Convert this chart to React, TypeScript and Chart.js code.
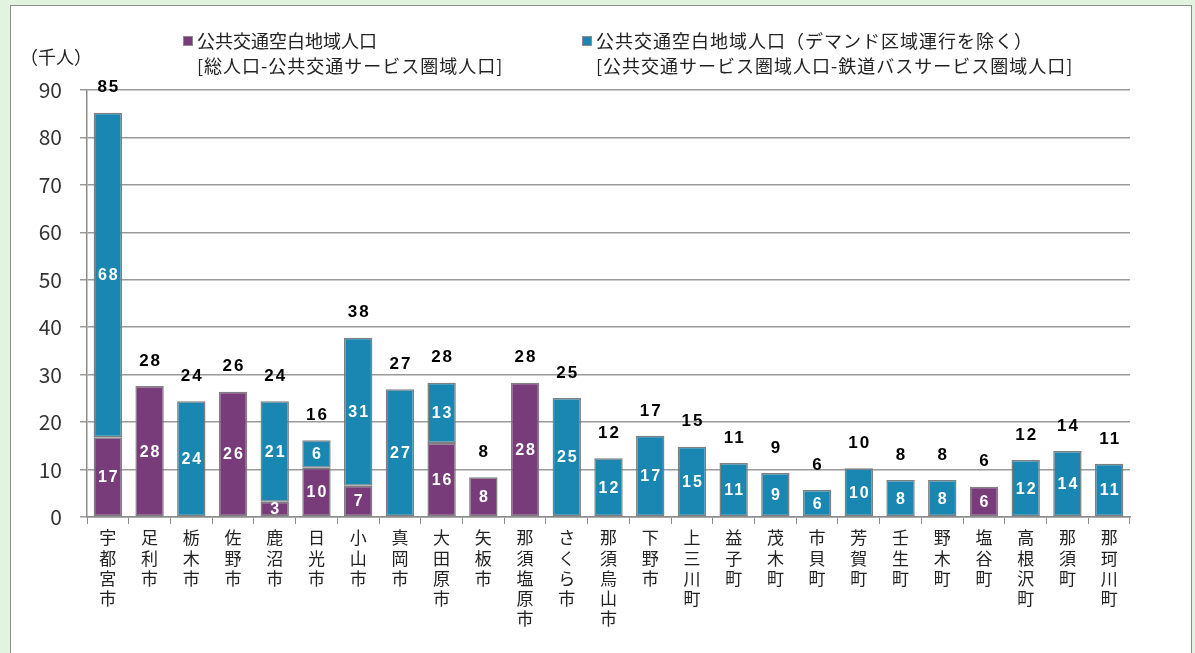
import React, { useEffect, useRef } from "react";
import { Chart, registerables } from "chart.js";

Chart.register(...registerables);

const categories = [
  "宇都宮市", "足利市", "栃木市", "佐野市", "鹿沼市", "日光市", "小山市", "真岡市",
  "大田原市", "矢板市", "那須塩原市", "さくら市", "那須烏山市", "下野市", "上三川町",
  "益子町", "茂木町", "市貝町", "芳賀町", "壬生町", "野木町", "塩谷町", "高根沢町",
  "那須町", "那珂川町",
];

// 公共交通空白地域人口 [総人口-公共交通サービス圏域人口]
const purpleValues = [
  16.8, 27.6, null, 26.4, 3.2, 10.4, 6.6, null, 15.6, 8.4, 28.3, null, null,
  null, null, null, null, null, null, null, null, 6.4, null, null, null,
];

// 公共交通空白地域人口（デマンド区域運行を除く）
const tealValues = [
  68.4, null, 24.4, null, 21.2, 5.8, 31.2, 26.9, 12.7, null, null, 25.1, 12.4,
  17.1, 14.8, 11.4, 9.3, 5.7, 10.3, 7.8, 7.8, null, 12.0, 13.9, 11.2,
];

const yTicks = [0, 10, 20, 30, 40, 50, 60, 70, 80, 90];

const legend1 = ["公共交通空白地域人口", "[総人口-公共交通サービス圏域人口]"];
const legend2 = [
  "公共交通空白地域人口（デマンド区域運行を除く）",
  "[公共交通サービス圏域人口-鉄道バスサービス圏域人口]",
];
const yTitle = "（千人）";

const PURPLE = "#783c7a";
const TEAL = "#1a87b2";
const JP = '"Noto Sans CJK JP", "Noto Sans", sans-serif';

const labelPlugin = {
  id: "barLabels",
  afterDatasetsDraw(chart: any) {
    const ctx = chart.ctx;
    ctx.save();
    ctx.textAlign = "center";
    ctx.textBaseline = "middle";
    for (let i = 0; i < categories.length; i++) {
      let total = 0;
      let topY = Infinity;
      let x = 0;
      chart.data.datasets.forEach((ds: any, di: number) => {
        const v = ds.data[i];
        if (v == null) return;
        const el = chart.getDatasetMeta(di).data[i];
        total += v;
        topY = Math.min(topY, el.y);
        x = el.x;
        ctx.font = 'bold 16px "Liberation Sans", Arial, sans-serif';
        (ctx as any).letterSpacing = "2px";
        ctx.fillStyle = "#ffffff";
        ctx.fillText(String(Math.round(v)), el.x + 1, (el.y + el.base) / 2 + 1);
      });
      if (total > 0) {
        ctx.font = 'bold 17px "Liberation Sans", Arial, sans-serif';
        (ctx as any).letterSpacing = "2px";
        ctx.fillStyle = "#000000";
        ctx.fillText(String(Math.round(total)), x + 1, topY - 25);
      }
    }
    ctx.restore();
  },
};

export default function App() {
  const ref = useRef<HTMLCanvasElement>(null);
  useEffect(() => {
    const chart = new Chart(ref.current as HTMLCanvasElement, {
      type: "bar",
      data: {
        labels: categories.map((c) => Array.from(c)),
        datasets: [
          {
            label: legend1[0],
            data: purpleValues as any,
            backgroundColor: PURPLE,
            borderColor: "#7f7f7f",
            borderWidth: 1.5,
            borderSkipped: false,
            barPercentage: 0.68,
            categoryPercentage: 1,
          },
          {
            label: legend2[0],
            data: tealValues as any,
            backgroundColor: TEAL,
            borderColor: "#7f7f7f",
            borderWidth: 1.5,
            borderSkipped: false,
            barPercentage: 0.68,
            categoryPercentage: 1,
          },
        ],
      },
      options: {
        responsive: false,
        animation: false,
        devicePixelRatio: 1,
        layout: { padding: { left: 0, right: 65, top: 90, bottom: 0 } },
        plugins: {
          legend: { display: false },
          tooltip: { enabled: false },
        },
        scales: {
          x: {
            stacked: true,
            grid: {
              drawOnChartArea: false,
              color: "#8c8c8c",
              tickLength: 7,
              offset: true,
            },
            border: { color: "#8c8c8c", width: 1.5 },
            ticks: {
              color: "#222",
              font: { size: 17, family: JP, lineHeight: 1.18 },
              padding: 4,
              maxRotation: 0,
              minRotation: 0,
              autoSkip: false,
            },
            afterFit: (s: any) => {
              s.height = 136;
            },
          },
          y: {
            stacked: true,
            min: yTicks[0],
            max: yTicks[yTicks.length - 1],
            afterBuildTicks: (s: any) => {
              s.ticks = yTicks.map((v) => ({ value: v }));
            },
            ticks: {
              color: "#333",
              font: { size: 21, family: JP },
              padding: 18,
            },
            grid: { color: "#9a9a9a", lineWidth: 1.5, tickLength: 7 },
            border: { color: "#8c8c8c", width: 1.5 },
            afterFit: (s: any) => {
              s.width = 87;
            },
          },
        },
      },
      plugins: [labelPlugin],
    });
    return () => chart.destroy();
  }, []);

  const legendText: React.CSSProperties = {
    position: "absolute",
    fontFamily: JP,
    fontSize: 18,
    lineHeight: "25px",
    color: "#222",
    whiteSpace: "nowrap",
  };
  const marker = (color: string, left: number): React.CSSProperties => ({
    position: "absolute",
    left,
    top: 36,
    width: 8,
    height: 8,
    background: color,
    border: "1px solid #8c8c8c",
  });

  return (
    <div
      style={{
        position: "fixed",
        left: 0,
        top: 0,
        width: 1195,
        height: 653,
        background: "#e2f4df",
        overflow: "hidden",
      }}
    >
      <div
        style={{
          position: "absolute",
          left: 10,
          top: 5,
          width: 1180,
          height: 720,
          background: "#ffffff",
          border: "1px solid #8c8c8c",
        }}
      />
      <canvas
        ref={ref}
        width={1195}
        height={653}
        style={{ position: "absolute", left: 0, top: 0, width: 1195, height: 653 }}
      />
      <div style={{ ...legendText, left: 20, top: 44 }}>{yTitle}</div>
      <div style={marker(PURPLE, 183)} />
      <div style={{ ...legendText, left: 197, top: 28 }}>
        <div>{legend1[0]}</div>
        <div style={{ letterSpacing: "1px" }}>{legend1[1]}</div>
      </div>
      <div style={marker(TEAL, 582)} />
      <div style={{ ...legendText, left: 596, top: 28, letterSpacing: "1px" }}>
        <div>{legend2[0]}</div>
        <div>{legend2[1]}</div>
      </div>
    </div>
  );
}
